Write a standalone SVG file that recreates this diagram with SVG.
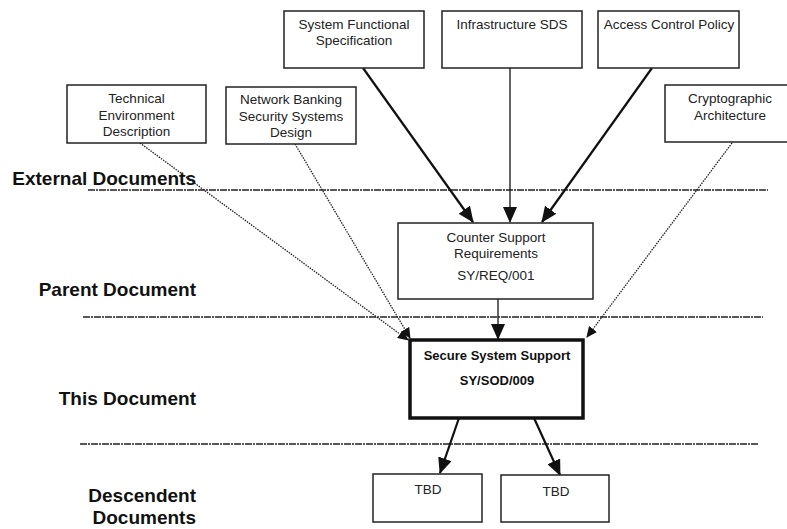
<svg xmlns="http://www.w3.org/2000/svg" width="787" height="529" viewBox="0 0 787 529">
<style>
.box{fill:#fff;stroke:#222;stroke-width:1.5}
.thick{fill:#fff;stroke:#111;stroke-width:3.5}
.t{font-family:"Liberation Sans",Arial,sans-serif;font-size:13.5px;fill:#222;text-anchor:middle}
.tb{font-family:"Liberation Sans",Arial,sans-serif;font-size:13px;font-weight:bold;fill:#111;text-anchor:middle}
.lbl{font-family:"Liberation Sans",Arial,sans-serif;font-size:19px;font-weight:bold;fill:#111;text-anchor:end}
.sep{stroke:#222;stroke-width:1.6;stroke-dasharray:7 1 2 1}
.solid{stroke:#111;stroke-width:2.2;fill:none}
.thin{stroke:#111;stroke-width:1.3;fill:none}
.dot{stroke:#222;stroke-width:1.3;stroke-dasharray:1.5 1.1;fill:none}
</style>
<defs>
<marker id="big" markerUnits="userSpaceOnUse" markerWidth="16" markerHeight="14" refX="15" refY="7" orient="auto"><path d="M0,0 L16,7 L0,14 z" fill="#111"/></marker>
<marker id="small" markerUnits="userSpaceOnUse" markerWidth="11" markerHeight="10" refX="10" refY="5" orient="auto"><path d="M0,0 L11,5 L0,10 z" fill="#111"/></marker>
</defs>
<rect width="787" height="529" fill="#fff"/>

<g id="lanes">
<line class="sep" x1="88" y1="190" x2="768" y2="190"/>
<line class="sep" x1="83" y1="317" x2="763" y2="317"/>
<line class="sep" x1="80" y1="444" x2="758" y2="444"/>
<text class="lbl" x="196" y="185">External Documents</text>
<text class="lbl" x="196" y="296">Parent Document</text>
<text class="lbl" x="196" y="405">This Document</text>
<text class="lbl" x="196" y="502">Descendent</text>
<text class="lbl" x="196" y="524">Documents</text>
</g>

<g id="connectors">
<line class="solid" x1="363" y1="68" x2="473" y2="222" marker-end="url(#big)"/>
<line class="thin" x1="510" y1="68" x2="510" y2="222" marker-end="url(#big)"/>
<line class="solid" x1="652" y1="68" x2="542" y2="222" marker-end="url(#big)"/>
<line class="thin" x1="498" y1="299" x2="498" y2="339" marker-end="url(#big)"/>
<line class="dot" x1="140" y1="143" x2="408" y2="340" marker-end="url(#small)"/>
<line class="dot" x1="295" y1="144" x2="410" y2="338" marker-end="url(#small)"/>
<line class="dot" x1="732" y1="143" x2="587" y2="337" marker-end="url(#small)"/>
<line class="solid" x1="459" y1="418" x2="440" y2="473" marker-end="url(#big)"/>
<line class="solid" x1="534" y1="418" x2="560" y2="475" marker-end="url(#big)"/>
</g>

<g id="sfs">
<rect class="box" x="284" y="11" width="140" height="57"/>
<text class="t" x="354" y="29">System Functional</text>
<text class="t" x="354" y="45">Specification</text>
</g>
<g id="infra">
<rect class="box" x="442" y="11" width="140" height="57"/>
<text class="t" x="512" y="29">Infrastructure SDS</text>
</g>
<g id="acp">
<rect class="box" x="598" y="11" width="141" height="57"/>
<text class="t" x="669" y="29">Access Control Policy</text>
</g>
<g id="ted">
<rect class="box" x="67" y="85" width="139" height="58"/>
<text class="t" x="136.5" y="103">Technical</text>
<text class="t" x="136.5" y="120">Environment</text>
<text class="t" x="136.5" y="136">Description</text>
</g>
<g id="nbssd">
<rect class="box" x="226" y="87" width="130" height="57"/>
<text class="t" x="291" y="104">Network Banking</text>
<text class="t" x="291" y="121">Security Systems</text>
<text class="t" x="291" y="137">Design</text>
</g>
<g id="crypto">
<rect class="box" x="665" y="85" width="130" height="57"/>
<text class="t" x="730" y="103">Cryptographic</text>
<text class="t" x="730" y="120">Architecture</text>
</g>
<g id="csr">
<rect class="box" x="398" y="223" width="195" height="76"/>
<text class="t" x="496" y="242">Counter Support</text>
<text class="t" x="496" y="258">Requirements</text>
<text class="t" x="496" y="280">SY/REQ/001</text>
</g>
<g id="sss">
<rect class="thick" x="410" y="340" width="173" height="78"/>
<text class="tb" x="497" y="360">Secure System Support</text>
<text class="tb" x="497" y="385">SY/SOD/009</text>
</g>
<g id="tbd1">
<rect class="box" x="373" y="474" width="109" height="48"/>
<text class="t" x="428" y="494">TBD</text>
</g>
<g id="tbd2">
<rect class="box" x="501" y="475" width="108" height="47"/>
<text class="t" x="556" y="496">TBD</text>
</g>
</svg>
